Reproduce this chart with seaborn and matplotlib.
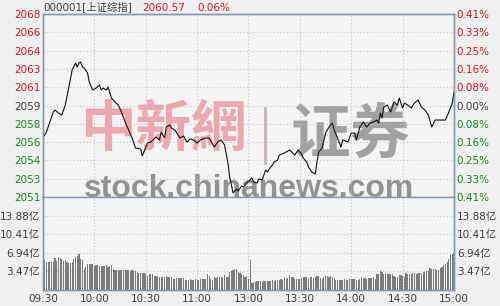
import numpy as np
import pandas as pd
import matplotlib
matplotlib.use("Agg")
import matplotlib.pyplot as plt
import seaborn as sns

# ---------------- data ----------------
title_code = "000001[上证综指]"
title_price = "2060.57"
title_pct = "0.06%"
pre_close = 2059.33

price_minutes = [0, 1, 2, 4, 6, 7, 9, 11, 13, 15, 17, 19, 20, 21, 22, 23, 24, 26, 27, 29,
                 31, 33, 34, 35, 37, 38, 40, 42, 44, 46, 48, 50, 52, 54, 57, 58, 61, 63, 66, 68,
                 69, 71, 72, 74, 75, 77, 80, 82, 84, 86, 88, 90, 92, 95, 97, 100, 102, 104, 106, 108,
                 109, 111, 113, 114, 116, 117, 119, 122, 123, 125, 126, 128, 130, 131, 133, 134, 135, 137, 138, 141,
                 144, 147, 149, 151, 152, 154, 155, 157, 159, 160, 161, 163, 165, 167, 169, 170, 172, 174, 175, 178,
                 180, 182, 183, 185, 187, 189, 191, 193, 195, 196, 197, 198, 199, 201, 203, 205, 207, 208, 210, 211,
                 213, 215, 217, 219, 221, 223, 225, 227, 229, 232, 235, 237, 239, 240]
price_values = [2056.42, 2056.61, 2056.89, 2057.81, 2058.73, 2058.91, 2058.64, 2058.45, 2059.37, 2060.94,
                2062.60, 2063.25, 2062.88, 2063.25, 2063.34, 2062.88, 2062.79, 2062.33, 2061.50, 2060.76,
                2060.94, 2061.22, 2060.76, 2060.94, 2060.76, 2061.04, 2060.02, 2059.65, 2059.37, 2058.64,
                2057.81, 2057.07, 2056.33, 2055.41, 2055.32, 2054.67, 2055.87, 2055.96, 2056.42, 2056.15,
                2056.88, 2056.33, 2057.34, 2057.53, 2057.25, 2057.07, 2056.33, 2056.52, 2055.96, 2056.24,
                2056.15, 2055.87, 2056.15, 2056.33, 2056.33, 2055.50, 2055.96, 2056.15, 2055.69, 2054.03,
                2052.73, 2051.26, 2051.63, 2051.44, 2051.90, 2051.81, 2052.18, 2052.64, 2052.27, 2052.18,
                2052.55, 2052.46, 2053.38, 2053.19, 2053.66, 2053.84, 2054.12, 2054.30, 2054.76, 2054.95,
                2055.22, 2054.76, 2055.22, 2054.85, 2054.49, 2054.12, 2053.66, 2053.19, 2053.01, 2054.12,
                2055.04, 2055.41, 2056.79, 2057.34, 2057.71, 2057.07, 2056.33, 2055.50, 2056.15, 2055.96,
                2056.79, 2056.79, 2056.15, 2057.34, 2057.81, 2057.34, 2057.71, 2057.81, 2057.99, 2057.71,
                2058.64, 2058.18, 2059.19, 2059.37, 2058.73, 2059.65, 2059.37, 2060.02, 2059.10, 2059.56,
                2059.37, 2059.10, 2059.56, 2059.84, 2059.19, 2058.91, 2058.45, 2057.34, 2057.99, 2057.99,
                2057.99, 2058.73, 2059.56, 2060.57]

vol_morning = [5.6, 5.6, 5.3, 5.3, 5.3, 5.3, 5.2, 6.0, 5.5, 6.1, 5.9, 5.7, 5.4, 5.6, 5.2, 5.1, 5.0, 5.3, 5.8, 6.1,
               6.4, 6.8, 5.8, 5.6, 4.0, 4.3, 4.9, 4.9, 4.9, 4.8, 4.4, 4.6, 4.6, 4.4, 4.4, 4.5, 4.4, 4.6, 4.3, 4.4,
               4.6, 3.9, 3.8, 3.8, 3.8, 3.8, 3.8, 3.8, 3.7, 3.8, 3.7, 3.6, 3.8, 3.5, 3.6, 3.1, 3.1, 3.1, 3.2, 3.1,
               3.0, 2.7, 2.9, 2.9, 2.9, 2.7, 2.7, 2.7, 2.4, 2.5, 2.5, 2.5, 2.6, 2.5, 2.5, 2.4, 2.1, 2.1, 2.2, 2.2,
               2.2, 2.2, 2.2, 1.9, 1.9, 1.9, 2.0, 1.9, 1.9, 2.0, 1.9, 1.9, 2.1, 2.1, 2.1, 2.1, 3.0, 2.7, 2.1, 1.9,
               2.5, 2.3, 2.4, 2.4, 2.4, 2.3, 2.8, 2.5, 2.4, 3.3, 3.6, 3.8, 3.9, 3.9, 3.3, 3.2, 3.0, 2.8, 2.4, 2.6,
               2.1]
vol_afternoon = [5.6, 1.25, 1.4, 1.4, 1.6, 1.6, 1.6, 1.5, 1.6, 1.7, 1.6, 1.7, 1.75, 1.8, 1.75, 1.8, 1.9, 1.9, 2.0, 1.9,
                 2.2, 2.1, 2.2, 2.8, 2.5, 2.4, 2.1, 2.1, 2.1, 2.1, 2.2, 2.4, 2.4, 2.4, 2.3, 2.4, 2.4, 2.2, 2.4, 2.7,
                 2.7, 2.3, 2.1, 2.5, 2.6, 2.6, 2.5, 2.6, 2.4, 2.2, 1.9, 1.9, 1.9, 1.9, 1.9, 2.1, 1.9, 1.9, 2.0, 2.1,
                 2.1, 2.1, 1.9, 1.9, 2.0, 2.4, 2.2, 2.2, 2.1, 2.3, 2.3, 2.2, 2.4, 2.1, 3.0, 3.0, 3.6, 3.3, 3.0, 3.1,
                 2.9, 3.0, 3.0, 3.0, 2.7, 2.5, 2.4, 2.8, 2.8, 2.7, 2.4, 3.2, 3.0, 3.0, 3.0, 3.1, 3.1, 3.0, 3.2, 3.2,
                 3.2, 3.4, 3.3, 3.6, 3.5, 4.1, 3.9, 3.9, 3.9, 3.8, 3.8, 4.1, 4.3, 4.6, 4.9, 5.2, 5.8, 6.5, 6.8, 6.9]

price_tick_labels = ["2068", "2066", "2064", "2063", "2061", "2059", "2058", "2056", "2054", "2053", "2051"]
pct_tick_labels = ["0.41%", "0.33%", "0.25%", "0.16%", "0.08%", "0.00%", "0.08%", "0.16%", "0.25%", "0.33%", "0.41%"]
pct_steps = [0.41, 0.328, 0.246, 0.164, 0.082, 0.0, -0.082, -0.164, -0.246, -0.328, -0.41]
vol_ticks = [3.47, 6.94, 10.41, 13.88]
vol_tick_labels = ["3.47亿", "6.94亿", "10.41亿", "13.88亿"]
time_ticks = [0, 30, 60, 90, 120, 150, 180, 210, 240]
time_labels = ["09:30", "10:00", "10:30", "11:00", "13:00", "13:30", "14:00", "14:30", "15:00"]

# ---------------- style ----------------
sns.set_style("white")
plt.rcParams["font.family"] = ["DejaVu Sans", "Noto Sans CJK SC"]

BG = "#f0f0f0"
AXBG = "#f4f4f4"
BORDER = "#8098b0"
GRID = "#c4c4c4"
RED = "#e0141e"
GREEN = "#128c12"
DARK = "#3c3c3c"
FS = 7.5

W, H = 500, 306
fig = plt.figure(figsize=(W / 100, H / 100), dpi=100, facecolor=BG)
L, R, T, B1, B2 = 43, 454, 14, 197, 290
ax = fig.add_axes([L / W, 1 - B1 / H, (R - L) / W, (B1 - T) / H], facecolor=AXBG)
axv = fig.add_axes([L / W, 1 - B2 / H, (R - L) / W, (B2 - B1) / H], facecolor=AXBG)

# ---------------- watermark ----------------
def fx(x):
    return x / W

def fy(y):
    return 1 - y / H

ax.text(fx(163), fy(130), "中新網", transform=fig.transFigure, ha="center", va="center",
        fontsize=40, fontweight="bold", family=["Noto Sans CJK SC"], color="#ec9aa3",
        alpha=0.85, zorder=0.5, clip_on=False)
ax.plot([fx(265), fx(265)], [fy(108), fy(163)], transform=fig.transFigure, color="#b8a8a8",
        lw=2.2, alpha=0.8, zorder=0.5, clip_on=False)
ax.text(fx(350), fy(136), "证券", transform=fig.transFigure, ha="center", va="center",
        fontsize=43, fontweight="bold", family=["Noto Sans CJK SC"], color="#8c8c8c",
        alpha=0.8, zorder=0.5, clip_on=False)
ax.text(fx(249), fy(197), "stock.chinanews.com", transform=fig.transFigure, ha="center",
        va="baseline", fontsize=23, fontweight="bold", family=["Liberation Sans"],
        color="#7a7a7a", alpha=0.8, zorder=0.5, clip_on=False)

# ---------------- price panel ----------------
df_price = pd.DataFrame({"minute": price_minutes, "price": price_values})
sns.lineplot(data=df_price, x="minute", y="price", ax=ax, color="#111111", lw=0.8,
             estimator=None, zorder=3)
price_ticks = [pre_close * (1 + p / 100) for p in pct_steps]
ax.set_xlim(0, 240)
ax.set_ylim(pre_close * (1 - 0.0041), pre_close * (1 + 0.0041))
ax.set_yticks(price_ticks)
ax.set_yticklabels(price_tick_labels)
ax.set_xticks(time_ticks)
ax.set_xticklabels([])
ax.set_xlabel("")
ax.set_ylabel("")
colors = [RED] * 5 + [DARK] + [GREEN] * 5
for lab, c in zip(ax.get_yticklabels(), colors):
    lab.set_color(c)
ax.tick_params(axis="y", length=0, pad=2, labelsize=FS)
ax.tick_params(axis="x", length=0)

axr = ax.twinx()
axr.set_ylim(ax.get_ylim())
axr.set_yticks(price_ticks)
axr.set_yticklabels(pct_tick_labels)
for lab, c in zip(axr.get_yticklabels(), colors):
    lab.set_color(c)
axr.tick_params(axis="y", length=0, pad=2, labelsize=FS)

for t in price_ticks[1:-1]:
    ax.axhline(t, color=GRID, lw=0.8, ls=(0, (1, 2)), zorder=1)
for t in time_ticks[1:-1]:
    ax.axvline(t, color=GRID, lw=0.8, ls=(0, (1, 2)), zorder=1)

for a in (ax, axr):
    for s in a.spines.values():
        s.set_color(BORDER)
        s.set_linewidth(1.0)

# ---------------- volume panel ----------------
vols = vol_morning + vol_afternoon
df_vol = pd.DataFrame({"minute": list(range(len(vols))), "vol": vols})
sns.barplot(data=df_vol, x="minute", y="vol", ax=axv, native_scale=True, color="#7c7c7c",
            saturation=1, width=0.7, errorbar=None, linewidth=0, edgecolor="none", zorder=2)
axv.set_xlim(0, 240)
axv.set_ylim(0, 17.35)
axv.set_yticks(vol_ticks)
axv.set_yticklabels(vol_tick_labels)
axv.set_xticks(time_ticks)
axv.set_xticklabels(time_labels)
axv.set_xlabel("")
axv.set_ylabel("")
axv.tick_params(axis="both", length=0, labelsize=FS, labelcolor=DARK)
axv.tick_params(axis="y", pad=2)
axv.tick_params(axis="x", pad=3)

axvr = axv.twinx()
axvr.set_ylim(0, 17.35)
axvr.set_yticks(vol_ticks)
axvr.set_yticklabels(vol_tick_labels)
axvr.tick_params(axis="y", length=0, pad=2, labelsize=FS, labelcolor=DARK)

for t in vol_ticks:
    axv.axhline(t, color=GRID, lw=0.8, ls=(0, (1, 2)), zorder=1)
for t in time_ticks[1:-1]:
    axv.axvline(t, color=GRID, lw=0.8, ls=(0, (1, 2)), zorder=1)

for a in (axv, axvr):
    for s in a.spines.values():
        s.set_color(BORDER)
        s.set_linewidth(1.0)
    a.spines["top"].set_visible(False)

# ---------------- title ----------------
fig.text(fx(43), fy(8), title_code, ha="left", va="center", fontsize=FS, color=DARK)
fig.text(fx(142), fy(8), title_price, ha="left", va="center", fontsize=FS, color=RED)
fig.text(fx(197), fy(8), title_pct, ha="left", va="center", fontsize=FS, color=RED)

fig.savefig("out.png", dpi=100, facecolor=BG)
